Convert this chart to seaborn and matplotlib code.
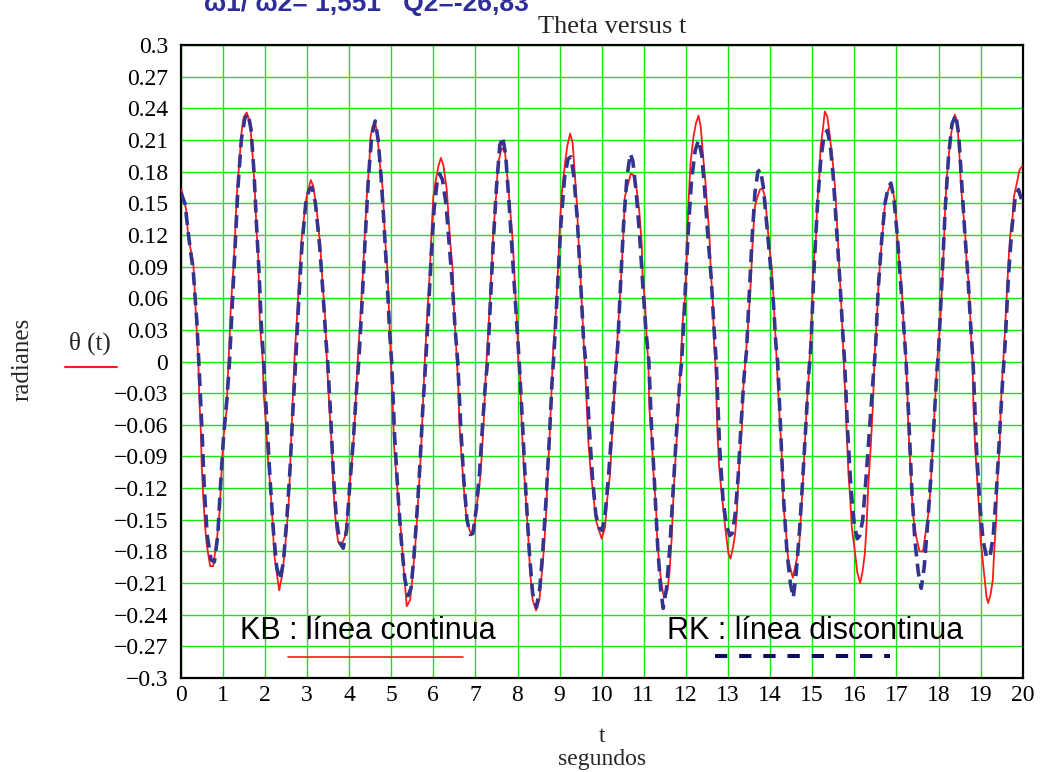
import matplotlib
matplotlib.use("Agg")
import matplotlib.pyplot as plt
from matplotlib.lines import Line2D
import pandas as pd
import seaborn as sns

# KB integration (solid red): time in seconds, angle in radians
t_kb = [0.00, 0.02, 0.13, 0.18, 0.30, 0.34, 0.38, 0.42, 0.44, 0.48, 0.50, 0.54, 0.58, 0.62, 0.70, 0.77,
        0.86, 0.92, 0.97, 1.01, 1.09, 1.13, 1.16, 1.19, 1.25, 1.29, 1.33, 1.39, 1.45, 1.50, 1.57, 1.65,
        1.71, 1.76, 1.80, 1.84, 1.88, 1.95, 1.97, 2.03, 2.08, 2.14, 2.18, 2.22, 2.28, 2.34, 2.42, 2.48,
        2.56, 2.60, 2.64, 2.67, 2.71, 2.77, 2.82, 2.87, 2.93, 2.99, 3.09, 3.15, 3.23, 3.31, 3.37, 3.43,
        3.47, 3.53, 3.59, 3.63, 3.69, 3.74, 3.82, 3.90, 3.96, 4.02, 4.09, 4.14, 4.18, 4.22, 4.26, 4.32,
        4.38, 4.42, 4.48, 4.51, 4.56, 4.62, 4.67, 4.73, 4.80, 4.85, 4.91, 4.95, 4.99, 5.04, 5.07, 5.13,
        5.19, 5.25, 5.29, 5.33, 5.37, 5.45, 5.50, 5.57, 5.62, 5.68, 5.72, 5.76, 5.80, 5.86, 5.92, 5.96,
        6.00, 6.06, 6.12, 6.18, 6.24, 6.32, 6.40, 6.46, 6.49, 6.54, 6.56, 6.59, 6.62, 6.67, 6.73, 6.79,
        6.87, 6.91, 6.99, 7.05, 7.11, 7.15, 7.19, 7.23, 7.27, 7.31, 7.35, 7.39, 7.43, 7.49, 7.54, 7.62,
        7.70, 7.78, 7.84, 7.89, 7.92, 7.96, 8.00, 8.02, 8.06, 8.10, 8.15, 8.20, 8.26, 8.30, 8.36, 8.44,
        8.52, 8.58, 8.63, 8.68, 8.71, 8.76, 8.81, 8.85, 8.91, 8.97, 9.01, 9.05, 9.13, 9.18, 9.25, 9.31,
        9.37, 9.41, 9.44, 9.48, 9.52, 9.56, 9.60, 9.64, 9.68, 9.74, 9.80, 9.86, 9.92, 10.00, 10.08, 10.13,
        10.20, 10.24, 10.28, 10.32, 10.36, 10.42, 10.48, 10.52, 10.55, 10.63, 10.69, 10.75, 10.83, 10.89,
        10.95, 10.97, 11.03, 11.07, 11.11, 11.13, 11.19, 11.23, 11.29, 11.32, 11.37, 11.43, 11.48, 11.56,
        11.61, 11.66, 11.70, 11.74, 11.80, 11.84, 11.88, 11.92, 11.98, 12.02, 12.06, 12.11, 12.18, 12.24,
        12.30, 12.35, 12.41, 12.46, 12.50, 12.56, 12.59, 12.64, 12.67, 12.70, 12.72, 12.75, 12.79, 12.85,
        12.90, 12.95, 13.01, 13.06, 13.12, 13.17, 13.21, 13.24, 13.28, 13.33, 13.36, 13.42, 13.48, 13.54,
        13.59, 13.64, 13.70, 13.76, 13.82, 13.88, 13.92, 13.98, 14.04, 14.08, 14.12, 14.16, 14.19, 14.24,
        14.28, 14.31, 14.38, 14.43, 14.54, 14.63, 14.70, 14.75, 14.79, 14.83, 14.87, 14.91, 14.95, 14.99,
        15.03, 15.09, 15.12, 15.17, 15.20, 15.25, 15.30, 15.36, 15.42, 15.49, 15.54, 15.58, 15.62, 15.66,
        15.70, 15.74, 15.78, 15.82, 15.86, 15.90, 15.94, 16.02, 16.07, 16.14, 16.20, 16.25, 16.29, 16.33,
        16.39, 16.44, 16.47, 16.49, 16.53, 16.57, 16.61, 16.65, 16.69, 16.73, 16.78, 16.85, 16.91, 16.97,
        17.02, 17.07, 17.13, 17.17, 17.22, 17.26, 17.28, 17.32, 17.36, 17.40, 17.47, 17.55, 17.63, 17.68,
        17.76, 17.80, 17.84, 17.88, 17.92, 17.96, 18.04, 18.08, 18.11, 18.15, 18.19, 18.23, 18.27, 18.34,
        18.39, 18.45, 18.50, 18.53, 18.58, 18.63, 18.67, 18.71, 18.75, 18.79, 18.81, 18.83, 18.87, 18.92,
        18.97, 19.00, 19.05, 19.10, 19.14, 19.18, 19.24, 19.29, 19.32, 19.37, 19.40, 19.45, 19.48, 19.52,
        19.56, 19.62, 19.66, 19.70, 19.76, 19.79, 19.86, 19.92, 19.98, 20.00]
theta_kb = [0.163, 0.163, 0.144, 0.118, 0.093, 0.061, 0.030, 0.000, -0.033, -0.068, -0.100, -0.131, -0.157, -0.174, -0.194, -0.194,
            -0.169, -0.144, -0.106, -0.074, -0.046, -0.005, 0.020, 0.052, 0.087, 0.118, 0.156, 0.188, 0.219, 0.232, 0.236, 0.226,
            0.194, 0.163, 0.125, 0.100, 0.036, 0.001, -0.030, -0.062, -0.096, -0.125, -0.150, -0.182, -0.200, -0.217, -0.200, -0.176,
            -0.138, -0.100, -0.059, -0.027, 0.008, 0.046, 0.084, 0.115, 0.137, 0.156, 0.172, 0.166, 0.144, 0.112, 0.074, 0.042,
            0.003, -0.043, -0.081, -0.122, -0.157, -0.171, -0.174, -0.166, -0.147, -0.115, -0.084, -0.052, -0.018, 0.011, 0.036, 0.077,
            0.125, 0.156, 0.188, 0.213, 0.223, 0.226, 0.216, 0.188, 0.163, 0.118, 0.087, 0.046, 0.003, -0.043, -0.081, -0.112,
            -0.144, -0.169, -0.194, -0.213, -0.232, -0.226, -0.207, -0.176, -0.144, -0.106, -0.074, -0.036, 0.002, 0.046, 0.087, 0.125,
            0.156, 0.172, 0.185, 0.193, 0.186, 0.163, 0.114, 0.087, 0.049, 0.017, -0.001, -0.018, -0.059, -0.090, -0.122, -0.150,
            -0.161, -0.164, -0.152, -0.131, -0.112, -0.090, -0.062, -0.027, 0.005, 0.030, 0.061, 0.093, 0.125, 0.156, 0.188, 0.202,
            0.200, 0.166, 0.137, 0.112, 0.087, 0.055, 0.030, -0.002, -0.011, -0.059, -0.100, -0.131, -0.169, -0.200, -0.226, -0.236,
            -0.226, -0.200, -0.176, -0.144, -0.112, -0.074, -0.027, 0.012, 0.046, 0.093, 0.131, 0.159, 0.188, 0.204, 0.216, 0.207,
            0.172, 0.150, 0.122, 0.093, 0.061, 0.030, -0.002, -0.036, -0.074, -0.106, -0.125, -0.150, -0.158, -0.168, -0.157, -0.131,
            -0.106, -0.074, -0.043, -0.018, 0.012, 0.052, 0.093, 0.125, 0.156, 0.169, 0.178, 0.177, 0.163, 0.144,
            0.112, 0.081, 0.055, 0.020, -0.002, -0.043, -0.074, -0.106, -0.138, -0.169, -0.194, -0.213, -0.224, -0.217,
            -0.200, -0.169, -0.131, -0.100, -0.062, -0.027, 0.000, 0.036, 0.061, 0.100, 0.150, 0.188, 0.213, 0.226,
            0.233, 0.223, 0.194, 0.172, 0.150, 0.118, 0.087, 0.055, 0.017, -0.002, -0.027, -0.068, -0.100, -0.125,
            -0.144, -0.163, -0.182, -0.187, -0.176, -0.163, -0.144, -0.115, -0.090, -0.062, -0.027, 0.005, 0.036, 0.074,
            0.118, 0.147, 0.156, 0.163, 0.164, 0.156, 0.137, 0.109, 0.087, 0.061, 0.030, -0.002, -0.027, -0.062,
            -0.090, -0.134, -0.163, -0.188, -0.205, -0.188, -0.169, -0.134, -0.106, -0.074, -0.043, -0.018, 0.011, 0.046,
            0.093, 0.118, 0.150, 0.175, 0.204, 0.219, 0.237, 0.232, 0.213, 0.188, 0.166, 0.137, 0.106, 0.074,
            0.046, 0.010, -0.027, -0.068, -0.106, -0.128, -0.157, -0.182, -0.200, -0.210, -0.198, -0.182, -0.157, -0.119,
            -0.081, -0.043, -0.011, 0.011, 0.036, 0.068, 0.093, 0.112, 0.131, 0.150, 0.159, 0.167, 0.163, 0.150,
            0.118, 0.093, 0.068, 0.036, 0.005, -0.027, -0.059, -0.090, -0.122, -0.147, -0.166, -0.180, -0.180, -0.166,
            -0.144, -0.125, -0.100, -0.068, -0.036, -0.005, 0.036, 0.068, 0.093, 0.137, 0.172, 0.188, 0.207, 0.226,
            0.234, 0.226, 0.194, 0.169, 0.144, 0.125, 0.093, 0.077, 0.046, 0.011, 0.000, -0.043, -0.081, -0.112,
            -0.144, -0.169, -0.188, -0.207, -0.223, -0.229, -0.220, -0.207, -0.182, -0.150, -0.112, -0.081, -0.043, -0.011,
            0.014, 0.061, 0.093, 0.118, 0.137, 0.156, 0.169, 0.181, 0.185, 0.185]

# RK integration (dashed navy)
t_rk = [0.00, 0.10, 0.20, 0.30, 0.38, 0.43, 0.50, 0.56, 0.63, 0.72, 0.80, 0.88, 0.95, 1.02, 1.10, 1.16,
        1.22, 1.28, 1.36, 1.44, 1.52, 1.60, 1.67, 1.74, 1.80, 1.86, 1.92, 1.97, 2.05, 2.12, 2.20, 2.28,
        2.36, 2.44, 2.52, 2.60, 2.66, 2.73, 2.80, 2.88, 2.97, 3.05, 3.12, 3.20, 3.30, 3.38, 3.45, 3.49,
        3.56, 3.63, 3.70, 3.78, 3.86, 3.94, 4.02, 4.10, 4.17, 4.23, 4.30, 4.38, 4.46, 4.54, 4.62, 4.69,
        4.76, 4.83, 4.90, 4.96, 5.01, 5.08, 5.16, 5.24, 5.32, 5.40, 5.47, 5.54, 5.61, 5.68, 5.75, 5.82,
        5.88, 5.95, 6.02, 6.09, 6.15, 6.22, 6.30, 6.38, 6.45, 6.52, 6.58, 6.65, 6.72, 6.80, 6.88, 6.94,
        7.02, 7.10, 7.17, 7.24, 7.29, 7.35, 7.42, 7.50, 7.58, 7.65, 7.72, 7.80, 7.88, 7.96, 8.04, 8.12,
        8.20, 8.28, 8.36, 8.45, 8.53, 8.60, 8.68, 8.76, 8.82, 8.87, 8.95, 9.03, 9.12, 9.20, 9.27, 9.34,
        9.42, 9.50, 9.57, 9.62, 9.70, 9.78, 9.86, 9.94, 10.01, 10.08, 10.16, 10.24, 10.32, 10.38, 10.45, 10.52,
        10.60, 10.68, 10.74, 10.82, 10.90, 10.98, 11.05, 11.12, 11.18, 11.26, 11.33, 11.40, 11.46, 11.54, 11.62, 11.70,
        11.78, 11.85, 11.90, 11.97, 12.05, 12.13, 12.22, 12.30, 12.38, 12.45, 12.52, 12.60, 12.67, 12.72, 12.80, 12.88,
        12.96, 13.04, 13.10, 13.17, 13.24, 13.31, 13.38, 13.44, 13.50, 13.57, 13.64, 13.71, 13.77, 13.84, 13.92, 14.00,
        14.08, 14.14, 14.18, 14.25, 14.32, 14.40, 14.48, 14.55, 14.62, 14.70, 14.77, 14.85, 14.92, 14.97, 15.04, 15.12,
        15.20, 15.28, 15.36, 15.43, 15.50, 15.58, 15.66, 15.73, 15.77, 15.84, 15.92, 16.00, 16.07, 16.13, 16.20, 16.28,
        16.36, 16.44, 16.50, 16.57, 16.65, 16.73, 16.81, 16.87, 16.94, 17.02, 17.10, 17.18, 17.23, 17.30, 17.37, 17.44,
        17.52, 17.59, 17.66, 17.73, 17.81, 17.89, 17.96, 18.00, 18.08, 18.16, 18.24, 18.32, 18.41, 18.48, 18.55, 18.62,
        18.70, 18.77, 18.82, 18.90, 18.98, 19.06, 19.14, 19.22, 19.30, 19.38, 19.45, 19.52, 19.58, 19.66, 19.74, 19.82,
        19.90, 19.96, 20.00]
theta_rk = [0.160, 0.150, 0.115, 0.085, 0.040, 0.000, -0.060, -0.120, -0.165, -0.188, -0.190, -0.165, -0.115, -0.070, -0.035, 0.000,
            0.050, 0.100, 0.165, 0.210, 0.230, 0.235, 0.220, 0.180, 0.130, 0.085, 0.030, 0.000, -0.060, -0.110, -0.160, -0.195,
            -0.207, -0.190, -0.150, -0.100, -0.050, 0.000, 0.055, 0.110, 0.150, 0.163, 0.165, 0.150, 0.110, 0.065, 0.020, 0.000,
            -0.050, -0.110, -0.150, -0.172, -0.177, -0.160, -0.115, -0.075, -0.030, 0.000, 0.050, 0.115, 0.175, 0.215, 0.228, 0.210,
            0.175, 0.130, 0.080, 0.030, 0.000, -0.070, -0.125, -0.170, -0.205, -0.222, -0.215, -0.185, -0.145, -0.100, -0.045, 0.000,
            0.045, 0.100, 0.145, 0.170, 0.178, 0.172, 0.150, 0.110, 0.075, 0.030, 0.000, -0.060, -0.110, -0.150, -0.164, -0.163,
            -0.140, -0.105, -0.060, -0.020, 0.000, 0.050, 0.110, 0.165, 0.205, 0.213, 0.195, 0.150, 0.100, 0.050, 0.000, -0.060,
            -0.125, -0.180, -0.220, -0.233, -0.215, -0.180, -0.130, -0.070, -0.020, 0.010, 0.070, 0.130, 0.175, 0.192, 0.194, 0.175,
            0.135, 0.075, 0.020, 0.000, -0.060, -0.110, -0.145, -0.158, -0.160, -0.145, -0.110, -0.065, -0.015, 0.015, 0.075, 0.130,
            0.175, 0.197, 0.190, 0.160, 0.120, 0.070, 0.030, 0.000, -0.060, -0.120, -0.175, -0.215, -0.234, -0.215, -0.175, -0.120,
            -0.065, -0.020, 0.000, 0.055, 0.120, 0.170, 0.200, 0.210, 0.195, 0.160, 0.120, 0.080, 0.030, 0.000, -0.080, -0.130,
            -0.155, -0.165, -0.163, -0.145, -0.110, -0.060, -0.015, 0.010, 0.060, 0.115, 0.160, 0.180, 0.182, 0.165, 0.130, 0.095,
            0.055, 0.015, 0.000, -0.065, -0.130, -0.180, -0.210, -0.224, -0.200, -0.160, -0.115, -0.060, -0.010, 0.015, 0.085, 0.145,
            0.190, 0.214, 0.219, 0.205, 0.175, 0.125, 0.075, 0.025, 0.000, -0.065, -0.120, -0.155, -0.168, -0.165, -0.150, -0.110,
            -0.065, -0.020, 0.010, 0.070, 0.115, 0.150, 0.166, 0.169, 0.155, 0.120, 0.075, 0.030, 0.000, -0.060, -0.125, -0.170,
            -0.200, -0.215, -0.195, -0.160, -0.115, -0.060, -0.010, 0.010, 0.075, 0.145, 0.195, 0.225, 0.234, 0.215, 0.170, 0.125,
            0.080, 0.030, 0.000, -0.080, -0.135, -0.170, -0.185, -0.186, -0.165, -0.120, -0.070, -0.020, 0.015, 0.080, 0.125, 0.155,
            0.163, 0.155, 0.147]

x_ticks = list(range(0, 21))
y_ticks = [0.3, 0.27, 0.24, 0.21, 0.18, 0.15, 0.12, 0.09, 0.06, 0.03, 0.0,
           -0.03, -0.06, -0.09, -0.12, -0.15, -0.18, -0.21, -0.24, -0.27, -0.3]
y_tick_labels = ["0.3", "0.27", "0.24", "0.21", "0.18", "0.15", "0.12", "0.09", "0.06", "0.03", "0",
                 "\u22120.03", "\u22120.06", "\u22120.09", "\u22120.12", "\u22120.15", "\u22120.18",
                 "\u22120.21", "\u22120.24", "\u22120.27", "\u22120.3"]

RED = "#ff1a1a"
NAVY = "#34348f"
NAVY_KEY = "#0d0d5e"
GRID = "#14e614"
SERIF = ["Liberation Serif", "DejaVu Serif"]
SANS = ["Liberation Sans", "DejaVu Sans"]

sns.set_style("white")
plt.rcParams["font.family"] = SERIF

W, H = 1042, 772
fig = plt.figure(figsize=(W / 100, H / 100), dpi=100)
fig.patch.set_facecolor("white")
ax = fig.add_axes([180.7 / W, 1 - 678 / H, 842 / W, 633 / H])

kb = pd.DataFrame({"t": t_kb, "theta": theta_kb})
rk = pd.DataFrame({"t": t_rk, "theta": theta_rk})

sns.lineplot(data=kb, x="t", y="theta", ax=ax, color=RED, linewidth=1.3,
             estimator=None, sort=False, zorder=3)
sns.lineplot(data=rk, x="t", y="theta", ax=ax, color=NAVY, linewidth=2.6,
             estimator=None, sort=False, zorder=4)
ax.lines[-1].set_dashes((3.6, 2.0))

ax.set_xlim(0, 20)
ax.set_ylim(-0.3, 0.3)
ax.set_xticks(x_ticks)
ax.set_xticklabels([str(v) for v in x_ticks])
ax.set_yticks(y_ticks)
ax.set_yticklabels(y_tick_labels)
ax.tick_params(axis="both", length=0, labelsize=17, colors="black")
ax.tick_params(axis="y", pad=9)
ax.tick_params(axis="x", pad=5)
ax.set_xlabel("")
ax.set_ylabel("")
ax.grid(True, color=GRID, linewidth=1.0)
ax.set_axisbelow(True)
for side in ("left", "bottom", "right", "top"):
    ax.spines[side].set_color("black")
    ax.spines[side].set_linewidth(1.6)
    ax.spines[side].set_visible(True)

# header and titles
fig.text(204 / W, 1 - 11 / H, "\u03c91/ \u03c92= 1,551   Q2=-26,83", ha="left", va="baseline",
         fontsize=19, fontweight="bold", color="#2e2e9a", family=SANS)
fig.text(612 / W, 1 - 27 / H, "Theta versus t", ha="center", va="center", fontsize=19)

# axis captions
fig.text(22 / W, 1 - 359 / H, "radianes", rotation=90, ha="center", va="center", fontsize=18)
fig.text(90 / W, 1 - 343 / H, "\u03b8 (t)", ha="center", va="center", fontsize=18)
fig.add_artist(Line2D([65 / W, 117 / W], [1 - 367 / H] * 2, color=RED, linewidth=1.5))
fig.text(602 / W, 1 - 736 / H, "t", ha="center", va="center", fontsize=17)
fig.text(602 / W, 1 - 760 / H, "segundos", ha="center", va="center", fontsize=17)

# method key inside the plot
fig.text(240 / W, 1 - 639 / H, "KB : l\u00ednea continua", ha="left", va="baseline",
         fontsize=22, family=SANS, color="black")
fig.add_artist(Line2D([288 / W, 463 / W], [1 - 656.5 / H] * 2, color=RED, linewidth=1.2))
fig.text(667 / W, 1 - 639 / H, "RK : l\u00ednea discontinua", ha="left", va="baseline",
         fontsize=22, family=SANS, color="black")
fig.add_artist(Line2D([715 / W, 890 / W], [1 - 656 / H] * 2, color=NAVY_KEY, linewidth=2.9,
                      dashes=(3.05, 2.95)))

fig.savefig("out.png", dpi=100, facecolor="white")
